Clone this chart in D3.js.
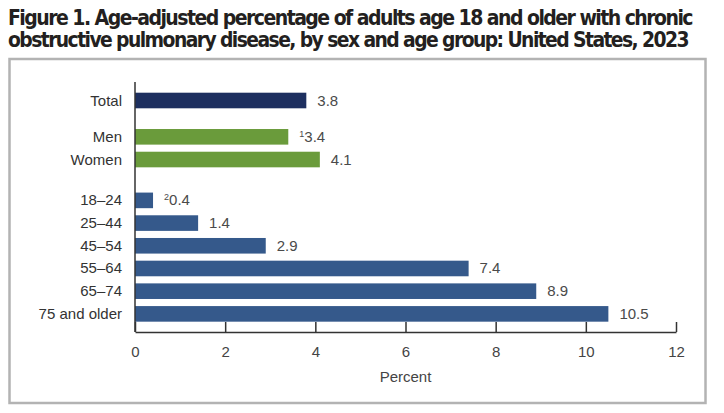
<!DOCTYPE html>
<html>
<head>
<meta charset="utf-8">
<script src="https://cdn.jsdelivr.net/npm/d3@7/dist/d3.min.js"></script>
<style>
  html, body { margin: 0; padding: 0; background: #fff; }
  svg { display: block; }
</style>
</head>
<body>
<svg id="chart" width="724" height="413"></svg>
<script>
// ---- data ----
const titleLines = [
  "Figure 1. Age-adjusted percentage of adults age 18 and older with chronic",
  "obstructive pulmonary disease, by sex and age group: United States, 2023"
];
const categories = ["Total", "Men", "Women", "18\u201324", "25\u201344", "45\u201354", "55\u201364", "65\u201374", "75 and older"];
const groups = ["total", "sex", "sex", "age", "age", "age", "age", "age", "age"];
const values = [3.8, 3.4, 4.1, 0.4, 1.4, 2.9, 7.4, 8.9, 10.5];
const footnoteMarks = ["", "1", "", "2", "", "", "", "", ""];
const xTicks = [0, 2, 4, 6, 8, 10, 12];
const xLabel = "Percent";

// ---- layout ----
const svg = d3.select("#chart");
const colors = { total: "#1d2f5f", sex: "#6a9b3b", age: "#35598b" };
const fontMain = "'Liberation Sans', Arial, Helvetica, sans-serif";

// title: fit each line to its width with letter-spacing (keeps glyph height)
const titleWidths = [684, 680];
const titleSize = 21;
svg.selectAll("text.title").data(titleLines).join("text")
  .attr("class", "title")
  .attr("x", 8)
  .attr("y", (d, i) => 25 + i * 22)
  .style("font-family", "'Liberation Sans Narrow', 'DejaVu Sans Condensed', 'Roboto Condensed', Arial, sans-serif")
  .style("font-weight", "bold")
  .style("font-size", titleSize + "px")
  .style("fill", "#231f20")
  .text(d => d)
  .each(function(d, i) {
    const t = d3.select(this);
    let len = this.getComputedTextLength();
    let ls = (titleWidths[i] - len) / d.length;
    if (ls < -1.6) {
      // too wide even with tight spacing: shrink font a bit
      const fs = titleSize * titleWidths[i] / (len - 1.6 * d.length);
      t.style("font-size", fs + "px");
      len = this.getComputedTextLength();
      ls = (titleWidths[i] - len) / d.length;
    }
    t.style("letter-spacing", ls + "px");
  });

// frame
svg.append("rect")
  .attr("x", 9.5).attr("y", 59)
  .attr("width", 696).attr("height", 344)
  .attr("fill", "none")
  .attr("stroke", "#b3b3b3")
  .attr("stroke-width", 2.5);

// slot positions with group gaps
const gapAfter = { total: 0.6, sex: 0.8 };
const slots = [];
let s = 0;
categories.forEach((c, i) => {
  if (i > 0) {
    s += 1;
    if (groups[i] !== groups[i - 1]) s += gapAfter[groups[i - 1]];
  }
  slots.push(s);
});
const step = 22.7;
const yTop = 100.5;
const y = d3.scaleLinear().domain([0, 1]).range([yTop, yTop + step]);
const barH = 15.6;

const x = d3.scaleLinear().domain([0, 12]).range([135, 676]);
const axisY = 332;

// bars
svg.append("g").selectAll("rect").data(categories).join("rect")
  .attr("x", x(0))
  .attr("y", (d, i) => y(slots[i]) - barH / 2)
  .attr("width", (d, i) => x(values[i]) - x(0))
  .attr("height", barH)
  .attr("fill", (d, i) => colors[groups[i]]);

// category labels
svg.append("g").selectAll("text").data(categories).join("text")
  .attr("x", 122)
  .attr("y", (d, i) => y(slots[i]) + 5)
  .attr("text-anchor", "end")
  .style("font-family", fontMain)
  .style("font-size", "15px")
  .style("fill", "#333")
  .text(d => d);

// value labels
const vl = svg.append("g").selectAll("text").data(categories).join("text")
  .attr("x", (d, i) => x(values[i]) + 11)
  .attr("y", (d, i) => y(slots[i]) + 5)
  .style("font-family", fontMain)
  .style("font-size", "15px")
  .style("fill", "#4a4a4a");
vl.each(function(d, i) {
  const t = d3.select(this);
  if (footnoteMarks[i]) {
    t.append("tspan").attr("dy", -5).style("font-size", "9px").text(footnoteMarks[i]);
    t.append("tspan").attr("dy", 5).text(d3.format(".1f")(values[i]));
  } else {
    t.text(d3.format(".1f")(values[i]));
  }
});

// vertical axis line
svg.append("line")
  .attr("x1", x(0)).attr("x2", x(0))
  .attr("y1", 82).attr("y2", axisY)
  .attr("stroke", "#333").attr("stroke-width", 1.5);

// x axis
const xAxis = d3.axisBottom(x)
  .tickValues(xTicks)
  .tickSizeInner(-10)
  .tickSizeOuter(0)
  .tickPadding(14)
  .tickFormat(d3.format("d"));
const gx = svg.append("g").attr("transform", `translate(0,${axisY})`).call(xAxis);
gx.select(".domain").attr("stroke", "#333").attr("stroke-width", 1.5);
gx.selectAll(".tick line").attr("stroke", "#333").attr("stroke-width", 1.5);
gx.selectAll(".tick text")
  .style("font-family", fontMain)
  .style("font-size", "15px")
  .style("fill", "#444");

// x label
svg.append("text")
  .attr("x", (x(0) + x(12)) / 2)
  .attr("y", 382)
  .attr("text-anchor", "middle")
  .style("font-family", fontMain)
  .style("font-size", "15px")
  .style("fill", "#444")
  .text(xLabel);
</script>
</body>
</html>
